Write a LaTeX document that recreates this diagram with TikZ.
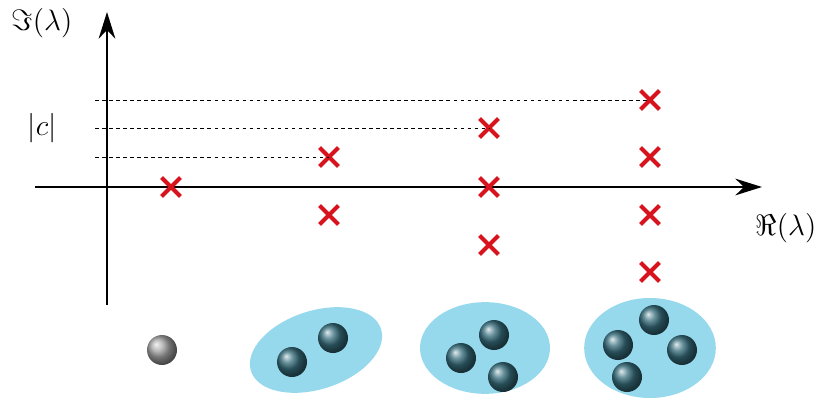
\documentclass[tikz,border=0pt]{standalone}
\usepackage{graphicx}
\usetikzlibrary{shapes.misc,shapes.geometric,arrows.meta}
\definecolor{crossred}{RGB}{215,20,30}
\definecolor{blobblue}{RGB}{150,216,236}
\definecolor{ballteal}{RGB}{55,110,125}
\newcommand{\biglbl}[1]{\scalebox{1.75}{\Large #1}}
\begin{document}
\begin{tikzpicture}[x=0.03cm,y=-0.03cm,
  ev/.style = {cross out,draw=crossred,line width=3.4pt,minimum size=0.45cm,inner sep=0pt},
  ball/.style = {circle,shading=ball,ball color=ballteal,minimum size=0.9cm,inner sep=0pt},
  blob/.style = {ellipse,fill=blobblue,inner sep=0pt},
  guide/.style = {dashed,thin}]
\useasboundingbox (0,0) rectangle (831,417);
% axes
\coordinate (xl) at (35,187);  \coordinate (xr) at (762,187);
\coordinate (yb) at (107,305); \coordinate (yt) at (107,12);
\draw[-{Stealth[length=8mm,width=5mm]},line width=1.4pt] (xl) -- (xr);
\draw[-{Stealth[length=8mm,width=5mm]},line width=1.4pt] (yb) -- (yt);
\node (im) at (42,23) {\biglbl{$\Im(\lambda)$}};
\node (re) at (786,228) {\biglbl{$\Re(\lambda)$}};
\node (c) at (42,128) {\biglbl{$|c|$}};
% eigenvalues
\foreach \x/\y [count=\k] in {171/187, 329/157, 329/215, 489/128, 489/187, 489/245,
                                650/100, 650/157, 650/215, 650/272}
    \node[ev] (e\k) at (\x,\y) {};
% guides
\coordinate (g1) at (95,157); \coordinate (g2) at (95,128); \coordinate (g3) at (95,100);
\draw[guide] (g1) -- (e2.center);
\draw[guide] (g2) -- (e4.center);
\draw[guide] (g3) -- (e7.center);
% clusters
\node[blob,minimum width=4.1cm,minimum height=2.35cm,rotate=18] (b1) at (316,350) {};
\node[blob,minimum width=3.9cm,minimum height=2.75cm] (b2) at (485,348) {};
\node[blob,minimum width=3.95cm,minimum height=3.0cm] (b3) at (650,348) {};
\node[ball,ball color=gray!70] (p0) at (162,350) {};
\foreach \x/\y [count=\k] in {292/362, 333/338, 494/335, 461/358, 503/377,
                                654/320, 618/345, 682/350, 627/377}
    \node[ball] (p\k) at (\x,\y) {};
\end{tikzpicture}
\end{document}
